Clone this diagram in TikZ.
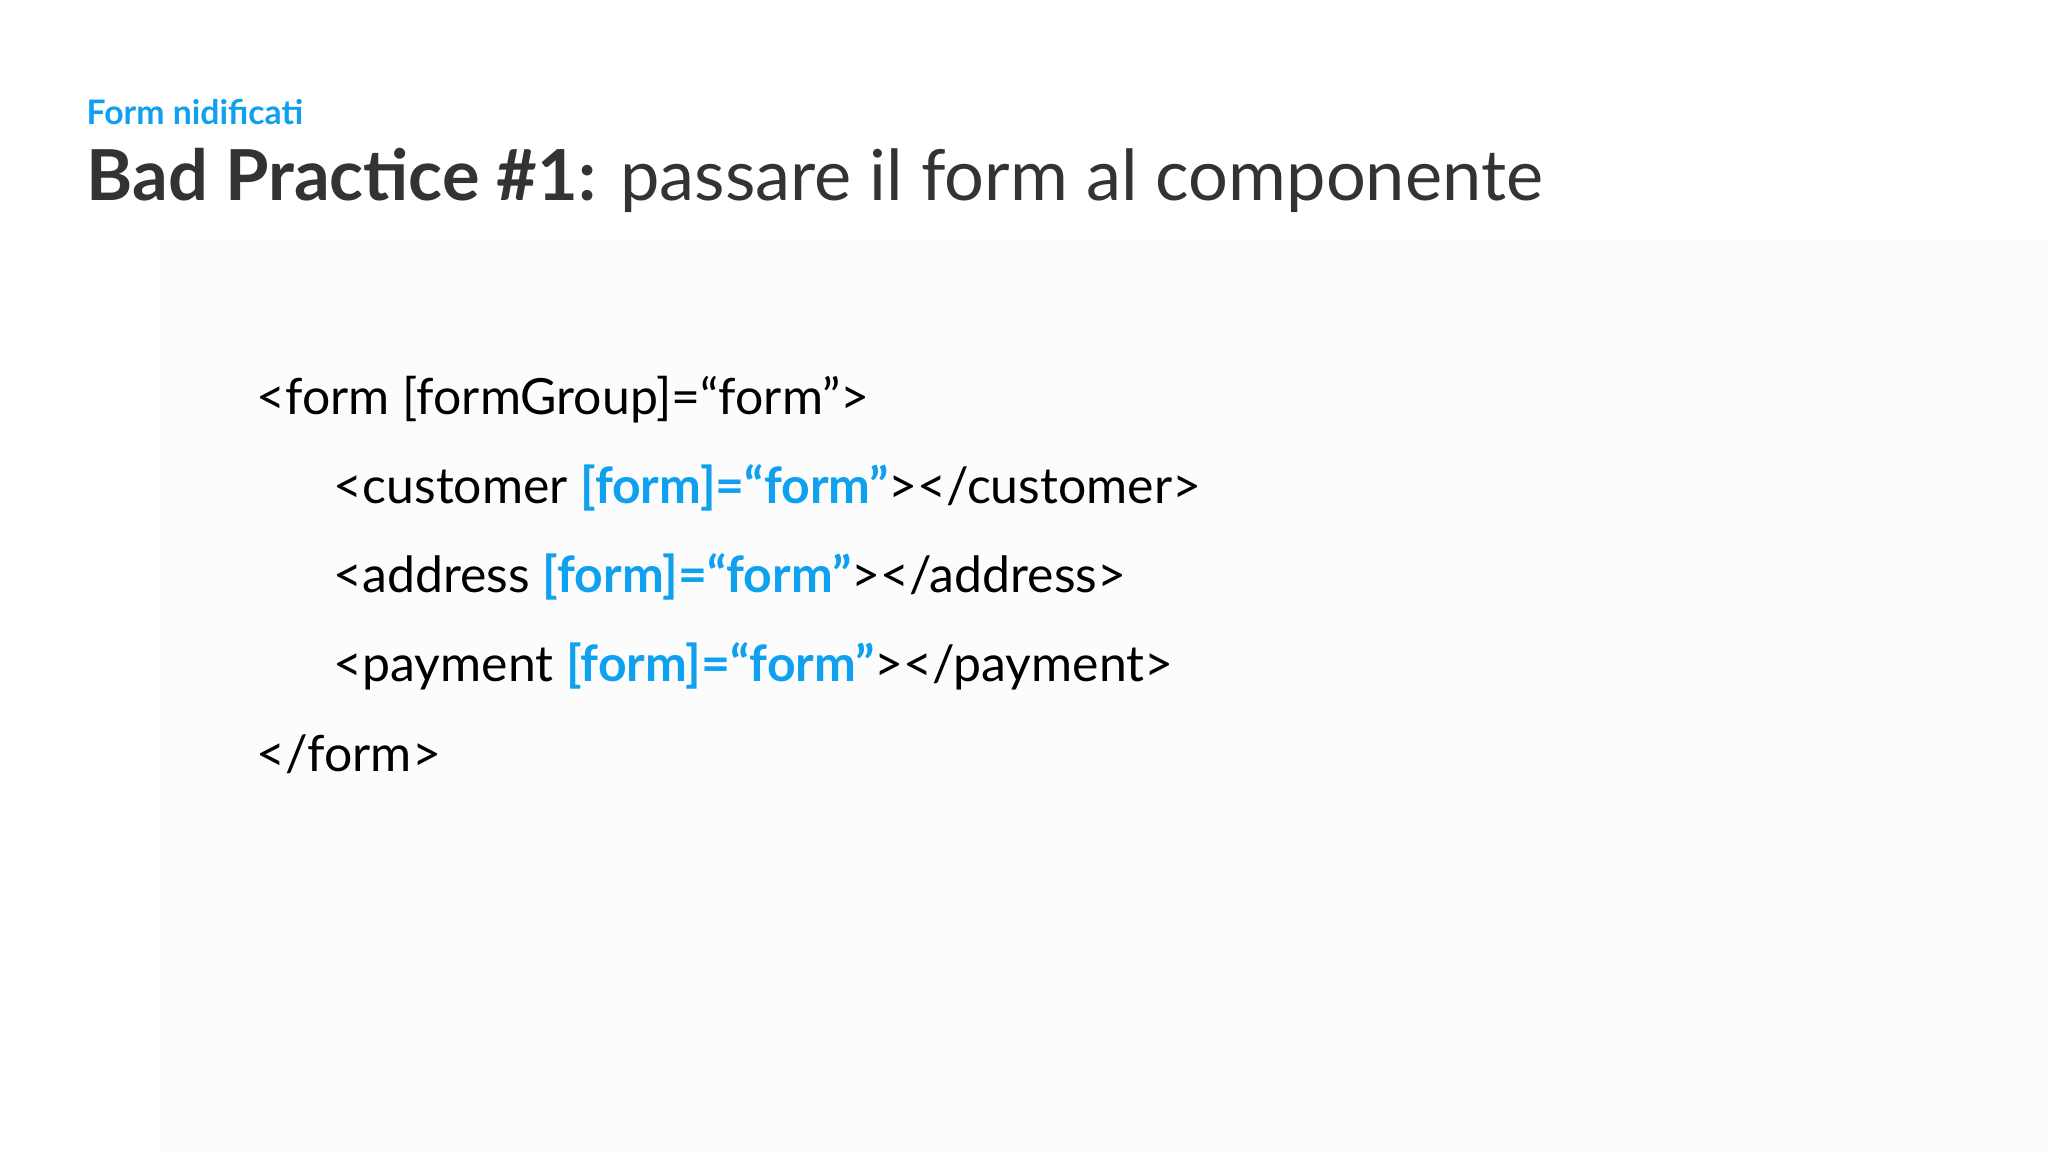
\documentclass[tikz,border=0pt]{standalone}
\usepackage{fontspec}
\setmainfont{Lato}
\definecolor{accent}{RGB}{16,160,240}
\definecolor{titlegray}{RGB}{51,51,51}
\begin{document}
\begin{tikzpicture}[x=0.01cm,y=-0.01cm,
  sub/.style={anchor=west,inner sep=0pt,text=accent,font=\fontsize{9.6}{11}\selectfont\bfseries},
  ttl/.style={anchor=west,inner sep=0pt,text=titlegray,font=\fontsize{20}{24}\selectfont},
  code/.style={anchor=west,inner sep=0pt,text=black,font=\fontsize{14.2}{17}\selectfont}]
\useasboundingbox[fill=white] (0,0) rectangle (2048,1152);
\fill[black!1] (160,240) rectangle (2048,1152);
\node[sub] (sub) at (86,112) {Form nidificati};
\node[ttl] (title) at (86,180) {\textbf{Bad Practice \#1:} passare il form al componente};
\node[code] (l1) at (256,400) {<form [formGroup]=“form”>};
\node[code] (l2) at (333,488) {<customer \textcolor{accent}{\textbf{[form]=“form”}}></customer>};
\node[code] (l3) at (333,577) {<address \textcolor{accent}{\textbf{[form]=“form”}}></address>};
\node[code] (l4) at (333,666) {<payment \textcolor{accent}{\textbf{[form]=“form”}}></payment>};
\node[code] (l5) at (256,754) {</form>};
\end{tikzpicture}
\end{document}
